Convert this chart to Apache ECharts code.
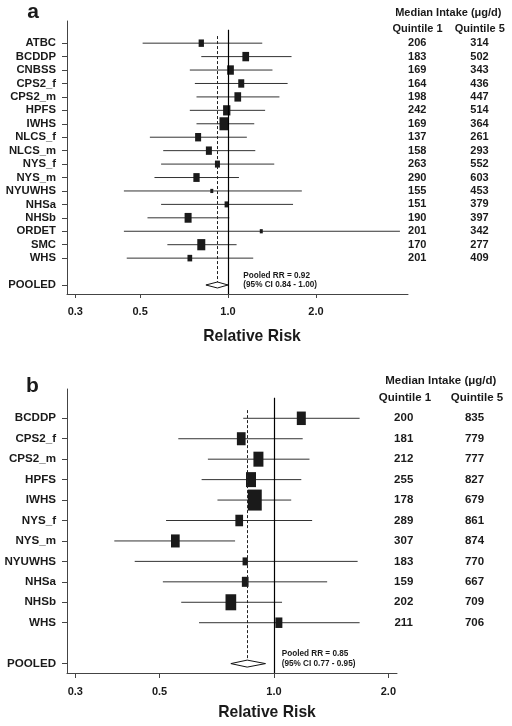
<!DOCTYPE html>
<html><head><meta charset="utf-8">
<script src="https://cdn.jsdelivr.net/npm/echarts@6/dist/echarts.min.js"></script>
<style>html,body{margin:0;padding:0;background:#fff}#c{width:512px;height:726px}</style>
</head><body><div id="c"></div>
<script>
// ---------- Panel a data ----------
const studiesA = ['ATBC','BCDDP','CNBSS','CPS2_f','CPS2_m','HPFS','IWHS','NLCS_f','NLCS_m','NYS_f','NYS_m','NYUWHS','NHSa','NHSb','ORDET','SMC','WHS'];
const rrA  = [0.81, 1.15, 1.02, 1.11, 1.08, 0.99, 0.97, 0.79, 0.86, 0.92, 0.78, 0.88, 0.99, 0.73, 1.30, 0.81, 0.74];
const loA  = [0.51, 0.81, 0.74, 0.77, 0.78, 0.74, 0.78, 0.54, 0.60, 0.59, 0.56, 0.44, 0.59, 0.53, 0.44, 0.62, 0.45];
const hiA  = [1.31, 1.65, 1.42, 1.60, 1.50, 1.34, 1.23, 1.16, 1.24, 1.44, 1.09, 1.79, 1.67, 1.01, 3.88, 1.07, 1.22];
const weightA = [5.3, 6.7, 6.7, 6, 6.7, 7.3, 9.3, 6, 6, 5, 6.3, 3, 4.3, 7, 3, 8, 4.7];
const q1A = [206, 183, 169, 164, 198, 242, 169, 137, 158, 263, 290, 155, 151, 190, 201, 170, 201];
const q5A = [314, 502, 343, 436, 447, 514, 364, 261, 293, 552, 603, 453, 379, 397, 342, 277, 409];
const pooledA = {rr: 0.92, lo: 0.84, hi: 1.00};

// ---------- Panel b data ----------
const studiesB = ['BCDDP','CPS2_f','CPS2_m','HPFS','IWHS','NYS_f','NYS_m','NYUWHS','NHSa','NHSb','WHS'];
const rrB  = [1.18, 0.82, 0.91, 0.87, 0.89, 0.81, 0.55, 0.84, 0.84, 0.77, 1.03];
const loB  = [0.83, 0.56, 0.67, 0.645, 0.71, 0.52, 0.38, 0.43, 0.51, 0.57, 0.635];
const hiB  = [1.68, 1.19, 1.24, 1.18, 1.11, 1.26, 0.79, 1.66, 1.38, 1.05, 1.68];
const weightB = [9, 8.7, 10, 10, 14, 7.7, 8.7, 5.3, 6.7, 10.7, 7];
const q1B = [200, 181, 212, 255, 178, 289, 307, 183, 159, 202, 211];
const q5B = [835, 779, 777, 827, 679, 861, 874, 770, 667, 709, 706];
const pooledB = {rr: 0.85, lo: 0.77, hi: 0.95};

const xTicks = [0.3, 0.5, 1.0, 2.0];

// ---------- build ----------
const FF = '"Liberation Sans", Arial, Helvetica, sans-serif';
const INK = '#1a1a1a';
const AX = '#444';
const L = Math.log10;

const options = {grid: [], xAxis: [], yAxis: [], series: [], graphic: []};

function addPanel(p) {
  const gi = options.grid.length;
  const yi = options.yAxis.length;
  const n = p.studies.length;
  const pooledPos = n + 2;
  const rows = p.studies.map((s, i) => i + 1);
  options.grid.push(p.grid);
  options.xAxis.push({
    type: 'value', gridIndex: gi, min: p.xmin, max: p.xmax, position: 'bottom',
    axisLine: {show: true, onZero: false, lineStyle: {color: AX, width: 1}},
    axisTick: {show: true, length: p.xTickLen, lineStyle: {color: AX}, customValues: xTicks.map(L)},
    axisLabel: {customValues: xTicks.map(L), formatter: v => Math.pow(10, v).toFixed(1),
      margin: p.xLabelMargin, color: INK, fontFamily: FF, fontWeight: 'bold', fontSize: 11},
    splitLine: {show: false}
  });
  options.yAxis.push({
    type: 'value', gridIndex: gi, inverse: true, min: p.ymin, max: p.ymax,
    axisLine: {show: true, onZero: false, lineStyle: {color: AX, width: 1}},
    axisTick: {show: true, length: 5, lineStyle: {color: AX}, customValues: rows.concat([pooledPos])},
    axisLabel: {customValues: rows.concat([pooledPos]),
      formatter: v => (v === pooledPos ? 'POOLED' : p.studies[v - 1]),
      margin: 11, color: INK, fontFamily: FF, fontWeight: 'bold', fontSize: p.labelSize},
    splitLine: {show: false}
  });
  [p.q1, p.q5].forEach((col, k) => {
    options.yAxis.push({
      type: 'value', gridIndex: gi, inverse: true, min: p.ymin, max: p.ymax, position: 'right',
      axisLine: {show: false}, axisTick: {show: false}, splitLine: {show: false},
      axisLabel: {customValues: rows, formatter: v => String(col[v - 1]), align: 'center',
        margin: p.colMargins[k], color: INK, fontFamily: FF, fontWeight: 'bold', fontSize: p.tableSize}
    });
  });
  // CI lines
  options.series.push({
    type: 'custom', xAxisIndex: gi, yAxisIndex: yi, silent: true, z: 2,
    data: p.studies.map((s, i) => [L(p.lo[i]), L(p.hi[i]), i + 1]),
    encode: {x: [0, 1], y: 2},
    renderItem: (params, api) => {
      const a = api.coord([api.value(0), api.value(2)]);
      const b = api.coord([api.value(1), api.value(2)]);
      return {type: 'line', shape: {x1: a[0], y1: a[1], x2: b[0], y2: b[1]},
        style: {stroke: '#333', lineWidth: 1}};
    }
  });
  // squares + reference lines
  options.series.push({
    type: 'scatter', xAxisIndex: gi, yAxisIndex: yi, silent: true, z: 3,
    data: p.studies.map((s, i) => ({value: [L(p.rr[i]), i + 1],
      symbolSize: [p.weight[i], p.weight[i] * p.ratio]})),
    symbol: 'rect', itemStyle: {color: INK, opacity: 1},
    markLine: {
      silent: true, symbol: ['none', 'none'], label: {show: false}, animation: false,
      data: [
        [{coord: [0, 0], lineStyle: {color: '#000', width: 1.2, type: 'solid'}}, {coord: [0, p.ymax]}],
        [{coord: [L(p.pooled.rr), p.dashTop], lineStyle: {color: '#222', width: 1, type: [3, 2]}},
         {coord: [L(p.pooled.rr), pooledPos - p.dashGap]}]
      ]
    }
  });
  // pooled diamond
  options.series.push({
    type: 'custom', xAxisIndex: gi, yAxisIndex: yi, silent: true, z: 4,
    data: [[L(p.pooled.lo), L(p.pooled.rr), L(p.pooled.hi), pooledPos]],
    encode: {x: [0, 1, 2], y: 3},
    renderItem: (params, api) => {
      const y = api.value(3);
      const a = api.coord([api.value(0), y]);
      const m = api.coord([api.value(1), y]);
      const b = api.coord([api.value(2), y]);
      const h = p.diamondHalf;
      return {type: 'polygon', shape: {points: [[a[0], a[1]], [m[0], m[1] - h], [b[0], b[1]], [m[0], m[1] + h]]},
        style: {fill: '#fff', stroke: '#111', lineWidth: 1}};
    }
  });
  const txt = (text, x, y, size, align, weight) => ({
    type: 'text', x: x, y: y, silent: true,
    style: {text: text, font: (weight || 'bold') + ' ' + size + 'px ' + FF, fill: INK,
      textAlign: align, textVerticalAlign: 'middle', align: align, verticalAlign: 'middle'}
  });
  options.graphic.push(txt(p.letter, p.letterPos[0], p.letterPos[1], 21, 'center'));
  options.graphic.push(txt('Median Intake (μg/d)', p.head[0], p.head[1], p.tableSize, 'center'));
  options.graphic.push(txt('Quintile 1', p.qh[0], p.qh[2], p.tableSize, 'center'));
  options.graphic.push(txt('Quintile 5', p.qh[1], p.qh[2], p.tableSize, 'center'));
  options.graphic.push(txt('Pooled RR = ' + p.pooled.rr.toFixed(2), p.ann[0], p.ann[1], 8.2, 'left'));
  options.graphic.push(txt('(95% CI ' + p.pooled.lo.toFixed(2) + ' - ' + p.pooled.hi.toFixed(2) + ')', p.ann[0], p.ann[2], 8.2, 'left'));
  options.graphic.push(txt('Relative Risk', p.title[0], p.title[1], 15.7, 'center'));
}

addPanel({
  studies: studiesA, rr: rrA, lo: loA, hi: hiA, weight: weightA, ratio: 1.4, q1: q1A, q5: q5A, pooled: pooledA,
  grid: {left: 67, top: 21, width: 341, height: 273},
  xmin: -0.5514, xmax: 0.6164, ymin: -0.65, ymax: 19.67,
  xTickLen: 4, xLabelMargin: 12, labelSize: 11.3, tableSize: 11, colMargins: [9.2, 71.5],
  dashTop: 0.47, dashGap: 0.2, diamondHalf: 3,
  letter: 'a', letterPos: [33, 12], head: [448.3, 13], qh: [417.5, 479.7, 29],
  ann: [243.3, 275.7, 284.5], title: [252, 337]
});
addPanel({
  studies: studiesB, rr: rrB, lo: loB, hi: hiB, weight: weightB, ratio: 1.5, q1: q1B, q5: q5B, pooled: pooledB,
  grid: {left: 67, top: 389, width: 330, height: 284},
  xmin: -0.5447, xmax: 0.3237, ymin: -0.433, ymax: 13.46,
  xTickLen: 5, xLabelMargin: 13, labelSize: 11.6, tableSize: 11.5, colMargins: [6.7, 77.5],
  dashTop: 0.6, dashGap: 0.2, diamondHalf: 3.5,
  letter: 'b', letterPos: [32.5, 386], head: [440.8, 381], qh: [405, 477, 398.3],
  ann: [281.7, 654, 664], title: [267, 713]
});

options.animation = false;
const chart = echarts.init(document.getElementById('c'), null, {renderer: 'canvas'});
chart.setOption(options);
</script>
</body></html>
